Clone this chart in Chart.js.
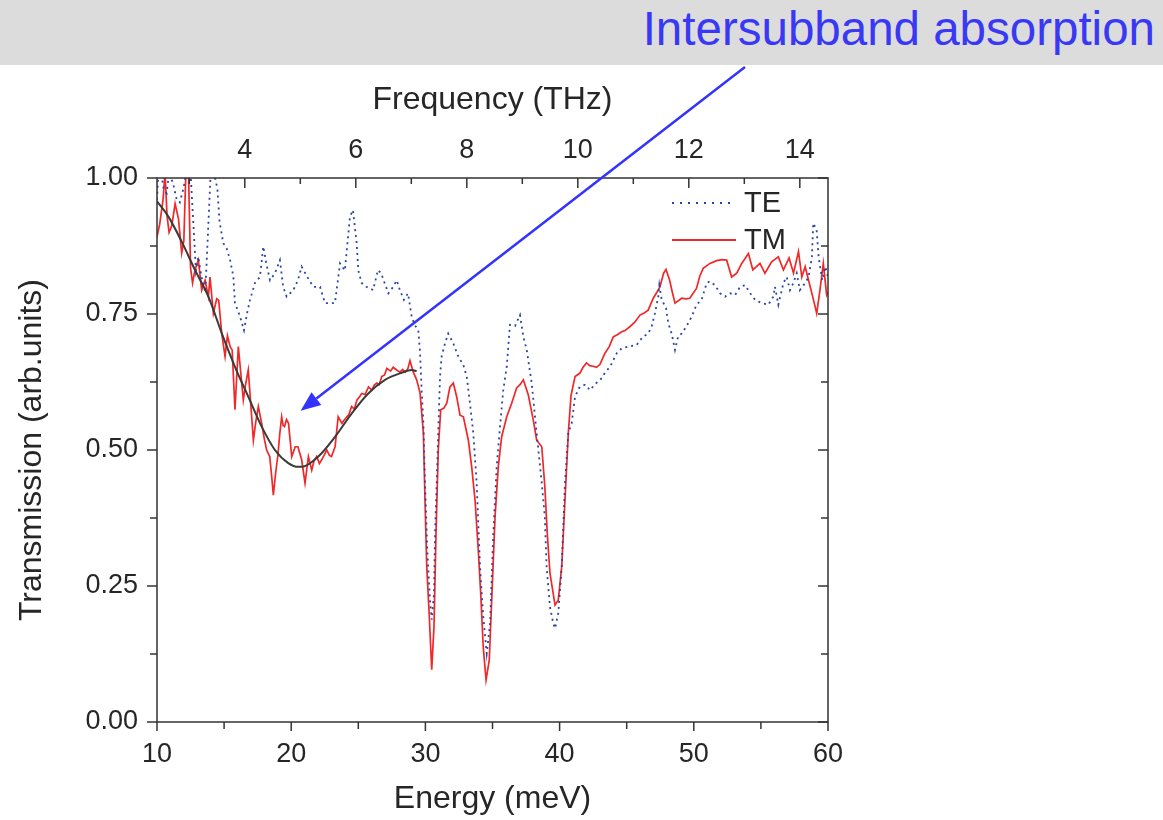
<!DOCTYPE html>
<html>
<head>
<meta charset="utf-8">
<script src="https://cdn.jsdelivr.net/npm/chart.js@4.4.1/dist/chart.umd.min.js"></script>
<style>
  html, body { margin:0; padding:0; background:#ffffff; }
  #wrap { position:relative; width:1163px; height:820px; overflow:hidden; }
  #header { position:absolute; left:0; top:0; width:1163px; height:65px; background:#dcdcdc; }
  #headtxt { position:absolute; right:8px; top:2px; font-family:"Liberation Sans", Arial, sans-serif; font-size:47.5px; line-height:54px; color:#3838f5; white-space:nowrap; }
  #c { position:absolute; left:0; top:0; }
</style>
</head>
<body>
<div id="wrap">
  <div id="header"><div id="headtxt">Intersubband absorption</div></div>
  <canvas id="c" width="1163" height="820"></canvas>
</div>
<script>
// ---------------- data ----------------
const energyTicks = [10, 20, 30, 40, 50, 60];
const freqTicks = [4, 6, 8, 10, 12, 14];
const transTicks = [0, 0.25, 0.5, 0.75, 1.0];
const meVperTHz = 4.1357;

const tmEnergy = [10.0,10.2,10.45,10.6,10.75,10.9,11.1,11.35,11.6,11.84,12.0,12.15,12.35,12.5,12.65,12.83,13.08,13.33,13.58,13.83,13.95,14.2,14.45,14.6,14.82,15.07,15.25,15.45,15.6,15.81,16.06,16.25,16.43,16.6,16.8,17.0,17.18,17.35,17.55,17.8,18.0,18.17,18.4,18.55,18.67,18.85,19.0,19.15,19.29,19.4,19.5,19.65,19.8,20.04,20.3,20.5,20.78,21.03,21.28,21.53,21.7,21.9,22.1,22.27,22.45,22.65,22.85,23.0,23.27,23.5,23.78,23.95,24.15,24.3,24.5,24.7,24.9,25.1,25.25,25.5,25.76,26.0,26.2,26.38,26.55,26.75,26.95,27.13,27.4,27.6,27.86,28.1,28.3,28.5,28.7,28.85,29.1,29.35,29.6,29.85,29.97,30.1,30.29,30.47,30.64,30.79,30.96,31.14,31.38,31.59,31.83,32.08,32.33,32.58,32.83,33.2,33.45,33.7,33.94,34.12,34.31,34.52,34.76,34.94,35.19,35.43,35.68,36.06,36.43,36.8,37.05,37.3,37.67,38.04,38.29,38.67,38.9,39.08,39.28,39.66,39.9,40.16,40.4,40.65,40.85,41.15,41.5,41.75,42.0,42.25,42.5,42.75,43.0,43.38,43.7,44.0,44.3,44.6,44.9,45.25,45.6,45.99,46.3,46.6,46.98,47.25,47.48,47.75,47.93,48.2,48.4,48.6,49.1,49.4,49.7,50.2,50.45,50.7,51.2,51.7,52.1,52.45,52.82,53.2,53.57,54.07,54.4,54.93,55.3,55.8,56.3,56.68,57.1,57.43,57.8,58.05,58.3,58.55,58.86,59.16,59.4,59.65,59.9,60.0];
const tmTrans = [0.892,0.915,0.96,1.01,0.93,0.90,0.912,0.953,0.925,0.862,0.885,1.01,1.01,0.835,0.807,0.831,0.849,0.794,0.812,0.782,0.818,0.751,0.778,0.775,0.715,0.672,0.71,0.69,0.684,0.574,0.69,0.64,0.592,0.62,0.647,0.58,0.518,0.55,0.58,0.549,0.52,0.50,0.488,0.45,0.417,0.46,0.488,0.53,0.561,0.545,0.543,0.556,0.549,0.488,0.506,0.506,0.482,0.439,0.488,0.463,0.48,0.488,0.475,0.482,0.49,0.50,0.49,0.488,0.506,0.561,0.549,0.555,0.561,0.565,0.58,0.575,0.592,0.598,0.604,0.602,0.616,0.61,0.62,0.623,0.62,0.635,0.638,0.65,0.645,0.652,0.647,0.643,0.648,0.643,0.65,0.664,0.643,0.629,0.605,0.531,0.408,0.286,0.194,0.096,0.175,0.347,0.50,0.574,0.577,0.586,0.616,0.623,0.598,0.564,0.561,0.518,0.469,0.408,0.316,0.237,0.138,0.077,0.114,0.224,0.377,0.469,0.524,0.561,0.586,0.614,0.62,0.629,0.601,0.555,0.518,0.506,0.433,0.347,0.274,0.215,0.224,0.286,0.408,0.531,0.60,0.635,0.641,0.652,0.66,0.655,0.654,0.652,0.657,0.678,0.69,0.708,0.712,0.717,0.72,0.727,0.735,0.748,0.752,0.757,0.779,0.79,0.80,0.825,0.832,0.812,0.79,0.77,0.779,0.778,0.779,0.797,0.82,0.834,0.843,0.848,0.85,0.849,0.818,0.825,0.843,0.861,0.831,0.843,0.825,0.846,0.855,0.831,0.853,0.825,0.865,0.818,0.837,0.812,0.782,0.751,0.794,0.843,0.785,0.79];

const teEnergy = [10.0,10.07,10.3,10.5,10.72,10.9,11.2,11.47,11.7,11.96,12.2,12.5,12.7,12.9,13.08,13.3,13.6,13.8,14.0,14.25,14.5,14.66,14.94,15.2,15.44,15.69,15.81,16.19,16.48,16.7,16.93,17.3,17.67,17.92,18.17,18.42,18.79,19.16,19.4,19.66,20.16,20.5,20.78,21.2,21.65,22.15,22.52,22.9,23.26,23.64,24.0,24.38,24.6,24.88,25.0,25.25,25.6,26.1,26.47,26.7,27.24,27.6,27.86,28.1,28.4,28.7,28.98,29.2,29.47,29.6,29.72,29.85,29.97,30.14,30.34,30.47,30.64,30.72,30.84,30.97,31.09,31.21,31.46,31.7,32.08,32.45,32.83,33.08,33.32,33.57,33.82,34.07,34.31,34.57,34.82,35.06,35.31,35.56,35.8,36.06,36.3,36.68,37.05,37.3,37.55,37.92,38.29,38.67,38.9,39.03,39.28,39.53,39.66,39.9,40.16,40.4,40.65,40.9,41.15,41.5,41.9,42.27,42.6,43.14,43.4,43.76,44.26,44.63,45.12,45.74,46.2,46.6,46.86,47.1,47.35,47.43,47.6,47.93,48.1,48.35,48.6,48.85,49.1,49.44,49.84,50.2,50.58,50.96,51.2,51.58,51.96,52.33,52.7,53.08,53.45,53.83,54.2,54.57,55.06,55.55,55.93,56.05,56.3,56.68,56.92,57.17,57.42,57.67,57.9,58.3,58.55,58.8,58.9,59.15,59.3,59.57,59.8,60.0];
const teTrans = [0.96,0.995,1.01,0.98,0.972,1.01,0.99,0.96,0.955,0.98,1.01,1.01,0.92,0.83,0.855,0.82,0.79,0.90,1.01,1.01,0.98,0.92,0.88,0.87,0.85,0.819,0.77,0.745,0.72,0.75,0.776,0.807,0.818,0.874,0.84,0.812,0.825,0.849,0.80,0.782,0.794,0.812,0.837,0.818,0.80,0.80,0.77,0.77,0.77,0.843,0.83,0.929,0.941,0.88,0.83,0.807,0.80,0.794,0.831,0.825,0.788,0.80,0.812,0.794,0.776,0.788,0.745,0.73,0.72,0.68,0.61,0.55,0.44,0.316,0.224,0.188,0.236,0.347,0.439,0.543,0.635,0.672,0.696,0.714,0.696,0.672,0.656,0.635,0.586,0.531,0.439,0.286,0.194,0.126,0.181,0.347,0.469,0.543,0.61,0.653,0.73,0.728,0.748,0.708,0.684,0.623,0.531,0.439,0.377,0.286,0.212,0.181,0.172,0.20,0.286,0.439,0.531,0.549,0.598,0.616,0.62,0.61,0.62,0.632,0.643,0.653,0.678,0.687,0.69,0.693,0.708,0.714,0.727,0.751,0.782,0.803,0.777,0.761,0.733,0.714,0.684,0.71,0.714,0.727,0.745,0.767,0.776,0.807,0.81,0.803,0.788,0.782,0.788,0.785,0.80,0.803,0.788,0.776,0.77,0.767,0.782,0.80,0.767,0.807,0.818,0.794,0.807,0.825,0.794,0.807,0.818,0.855,0.917,0.905,0.855,0.812,0.837,0.818];

const fitEnergy = [10.0,10.85,11.84,12.83,13.83,14.82,15.81,16.8,17.8,18.79,19.78,20.53,20.78,22.02,23.26,24.5,25.74,26.99,28.23,28.98,29.35];
const fitTrans = [0.957,0.929,0.883,0.831,0.782,0.715,0.653,0.598,0.543,0.50,0.476,0.469,0.469,0.488,0.524,0.567,0.604,0.629,0.642,0.647,0.645];

const seriesNames = ['TE', 'TM'];

// ---------------- styles ----------------
const FONT = '"Liberation Sans", Arial, sans-serif';
const TXT = '#262626';
const TE_COLOR = '#2a45a3';
const TM_COLOR = '#f02828';
const FIT_COLOR = '#3a3a3a';
const ARROW = '#3333ff';

const toPts = (xs, ys) => xs.map((x, i) => ({x: x, y: ys[i]}));

const framePlugin = {
  id: 'frame',
  afterDraw(chart) {
    const {ctx, chartArea: a, scales} = chart;
    const line = (x1, y1, x2, y2) => { ctx.beginPath(); ctx.moveTo(x1, y1); ctx.lineTo(x2, y2); ctx.stroke(); };
    ctx.save();
    ctx.strokeStyle = '#333';
    ctx.lineWidth = 1.5;
    ctx.strokeRect(a.left, a.top, a.right - a.left, a.bottom - a.top);
    for (let k = 0; k <= 8; k++) {
      const y = scales.y.getPixelForValue(k / 8);
      const L = (k % 2 === 0) ? 10 : 7;
      line(a.left - L, y, a.left, y);
      line(a.right - L, y, a.right, y);
    }
    for (let e = 10; e <= 60; e += 5) {
      const x = scales.x.getPixelForValue(e);
      line(x, a.bottom, x, a.bottom + (e % 10 === 0 ? 9 : 7));
    }
    for (let f = 3; f <= 14; f++) {
      const x = scales.x2.getPixelForValue(f);
      line(x, a.top, x, a.top + (f % 2 === 0 ? 10 : 6));
    }
    // legend
    const lx1 = a.right - 156, lx2 = a.right - 92, tx = a.right - 84;
    const ly1 = a.top + 25, ly2 = a.top + 62;
    ctx.lineWidth = 1.8;
    ctx.strokeStyle = TE_COLOR;
    ctx.setLineDash([2, 6]);
    line(lx1, ly1, lx2, ly1);
    ctx.setLineDash([]);
    ctx.strokeStyle = TM_COLOR;
    line(lx1, ly2, lx2, ly2);
    ctx.fillStyle = TXT;
    ctx.font = '29px ' + FONT;
    ctx.textBaseline = 'middle';
    ctx.textAlign = 'left';
    ctx.fillText(seriesNames[0], tx, ly1 + 1);
    ctx.fillText(seriesNames[1], tx, ly2 + 1);
    // annotation arrow
    const x0 = 745, y0 = 67;
    const tipX = scales.x.getPixelForValue(20.7), tipY = scales.y.getPixelForValue(0.572);
    const ang = Math.atan2(tipY - y0, tipX - x0);
    const hl = 20, hw = 8;
    const bx = tipX - hl * Math.cos(ang), by = tipY - hl * Math.sin(ang);
    ctx.strokeStyle = ARROW;
    ctx.fillStyle = ARROW;
    ctx.lineWidth = 2.5;
    line(x0, y0, bx, by);
    ctx.beginPath();
    ctx.moveTo(tipX, tipY);
    ctx.lineTo(bx + hw * Math.sin(ang), by - hw * Math.cos(ang));
    ctx.lineTo(bx - hw * Math.sin(ang), by + hw * Math.cos(ang));
    ctx.closePath();
    ctx.fill();
    ctx.restore();
  }
};

new Chart(document.getElementById('c'), {
  type: 'line',
  data: {
    datasets: [
      { label: 'fit', data: toPts(fitEnergy, fitTrans), borderColor: FIT_COLOR, borderWidth: 2, pointRadius: 0, tension: 0.4, cubicInterpolationMode: 'monotone', order: 0, clip: 0 },
      { label: seriesNames[0], data: toPts(teEnergy, teTrans), borderColor: TE_COLOR, borderWidth: 1.8, borderDash: [2, 4], pointRadius: 0, tension: 0, order: 1, clip: 0 },
      { label: seriesNames[1], data: toPts(tmEnergy, tmTrans), borderColor: TM_COLOR, borderWidth: 1.7, pointRadius: 0, tension: 0, order: 2, clip: 0 }
    ]
  },
  options: {
    responsive: false,
    animation: false,
    devicePixelRatio: 1,
    layout: { padding: { left: 0, right: 335, top: 0, bottom: 0 } },
    plugins: { legend: { display: false }, tooltip: { enabled: false } },
    scales: {
      x: {
        type: 'linear', position: 'bottom', min: 10, max: 60,
        afterBuildTicks(s) { s.ticks = energyTicks.map(v => ({value: v})); },
        ticks: { font: { family: FONT, size: 27 }, color: TXT, padding: 16, maxRotation: 0, autoSkip: false },
        grid: { display: false, drawTicks: false }, border: { display: false },
        title: { display: true, text: 'Energy (meV)', font: { family: FONT, size: 32 }, color: TXT, padding: { top: 0, bottom: 2 } },
        afterFit(s) { s.height = 98; }
      },
      x2: {
        type: 'linear', position: 'top', min: 10 / meVperTHz, max: 60 / meVperTHz,
        afterBuildTicks(s) { s.ticks = freqTicks.map(v => ({value: v})); },
        ticks: { font: { family: FONT, size: 27 }, color: TXT, padding: 11, maxRotation: 0, autoSkip: false },
        grid: { display: false, drawTicks: false }, border: { display: false },
        title: { display: true, text: 'Frequency (THz)', font: { family: FONT, size: 32 }, color: TXT, padding: { top: 81, bottom: 0 } },
        afterFit(s) { s.height = 178; }
      },
      y: {
        type: 'linear', position: 'left', min: 0, max: 1,
        afterBuildTicks(s) { s.ticks = transTicks.map(v => ({value: v})); },
        ticks: { font: { family: FONT, size: 27 }, color: TXT, padding: 19, autoSkip: false, callback: v => Number(v).toFixed(2) },
        grid: { display: false, drawTicks: false }, border: { display: false },
        title: { display: true, text: 'Transmission (arb.units)', font: { family: FONT, size: 32 }, color: TXT, padding: { top: 13, bottom: 0 } },
        afterFit(s) { s.width = 157; }
      }
    }
  },
  plugins: [framePlugin]
});
</script>
</body>
</html>
